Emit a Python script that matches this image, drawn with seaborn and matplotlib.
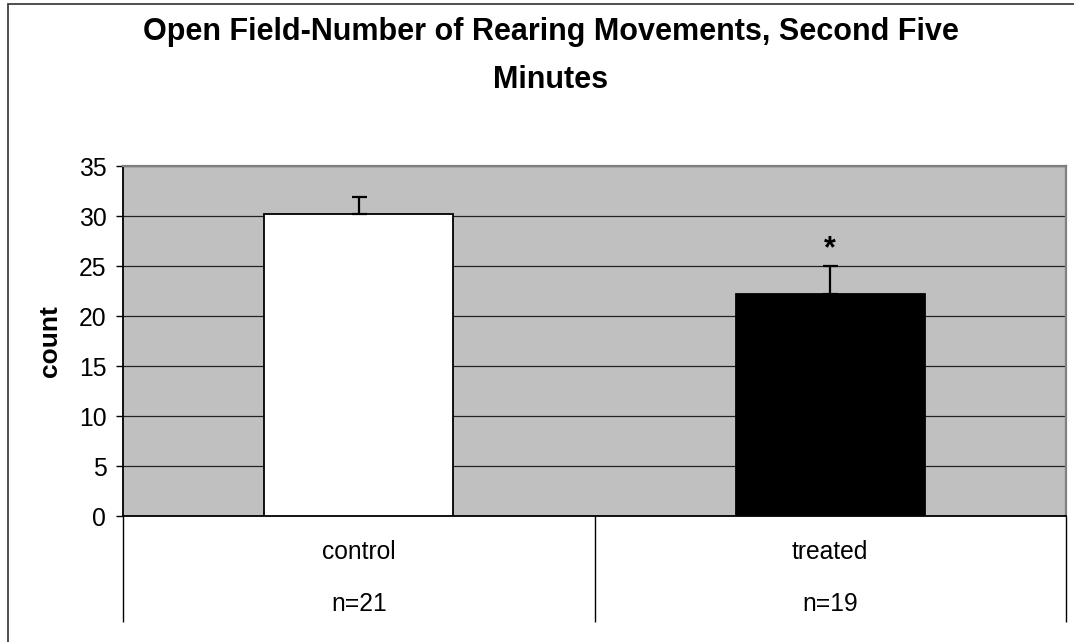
import numpy as np
import pandas as pd
import matplotlib
matplotlib.use('Agg')
import matplotlib.pyplot as plt
import matplotlib.transforms as mtransforms
from matplotlib.patches import Rectangle
import seaborn as sns

# Data
groups = ['control', 'treated']
group_n = ['n=21', 'n=19']
mean_count = [30.2, 22.2]
err_up = [1.7, 2.85]
bar_colors = ['white', 'black']
y_ticks = [0, 5, 10, 15, 20, 25, 30, 35]

data = pd.DataFrame({'group': groups, 'count': mean_count})

sns.set_style('white')
plt.rcParams['font.family'] = ['Liberation Sans', 'DejaVu Sans']
plt.rcParams['text.color'] = 'black'
plt.rcParams['axes.labelcolor'] = 'black'
plt.rcParams['xtick.color'] = 'black'
plt.rcParams['ytick.color'] = 'black'

fig = plt.figure(figsize=(10.74, 6.42), dpi=100)
ax = fig.add_axes([123 / 1074, 1 - 516 / 642, 943 / 1074, 350 / 642])
ax.set_facecolor('#C0C0C0')

sns.barplot(x='group', y='count', data=data, hue='group', palette=bar_colors,
            edgecolor='black', linewidth=1.3, width=0.4, legend=False,
            ax=ax, zorder=3)

# Upper-only error bars
ax.errorbar(range(len(groups)), mean_count, yerr=[[0] * len(groups), err_up],
            fmt='none', ecolor='black', elinewidth=1.6, capsize=5.4,
            capthick=1.6, zorder=4)

# Significance marker above treated
ax.text(1, mean_count[1] + err_up[1] + 0.1, '*', ha='center', va='bottom',
        fontsize=22, fontweight='bold')

ax.set_xlim(-0.5, 1.5)
ax.set_ylim(0, 35)
ax.set_yticks(y_ticks)
ax.yaxis.grid(True, color='#222222', linewidth=0.9)
ax.set_axisbelow(True)
ax.tick_params(axis='y', which='major', direction='out', length=5, width=1,
               color='black', labelsize=17.8, pad=7, left=True)

# Category boxes below the axis: long minor ticks at the boundaries
ax.set_xticks([0, 1])
ax.set_xticklabels([])
ax.tick_params(axis='x', which='major', length=0)
ax.set_xticks([-0.5, 0.5, 1.5], minor=True)
ax.tick_params(axis='x', which='minor', direction='out', length=76,
               width=1, color='black', bottom=True)

trans = mtransforms.blended_transform_factory(ax.transData, ax.transAxes)
for i, (g, n) in enumerate(zip(groups, group_n)):
    ax.text(i, -0.103, g, ha='center', va='center', fontsize=17.7,
            transform=trans)
    ax.text(i, -0.251, n, ha='center', va='center', fontsize=17.7,
            transform=trans)

ax.set_xlabel('')
ax.set_ylabel('count', fontsize=19, fontweight='bold', va='center')
ax.yaxis.set_label_coords(-0.0774, 0.5)

for side in ['left', 'bottom']:
    ax.spines[side].set_color('black')
    ax.spines[side].set_linewidth(1.3)
for side in ['top', 'right']:
    ax.spines[side].set_color('#808080')
    ax.spines[side].set_linewidth(1.6)

fig.text(551 / 1074, 1 - 17 / 642,
         'Open Field-Number of Rearing Movements, Second Five\nMinutes',
         ha='center', va='top', fontsize=22, fontweight='bold', linespacing=1.8)

# Chart area border (right and bottom fall outside the image)
fig.add_artist(Rectangle((8 / 1074, -0.1), 1.2, 1.1 - 4 / 642,
                         transform=fig.transFigure, fill=False,
                         edgecolor='#404040', linewidth=1.3))

fig.savefig('out.png', dpi=100)
plt.close(fig)
